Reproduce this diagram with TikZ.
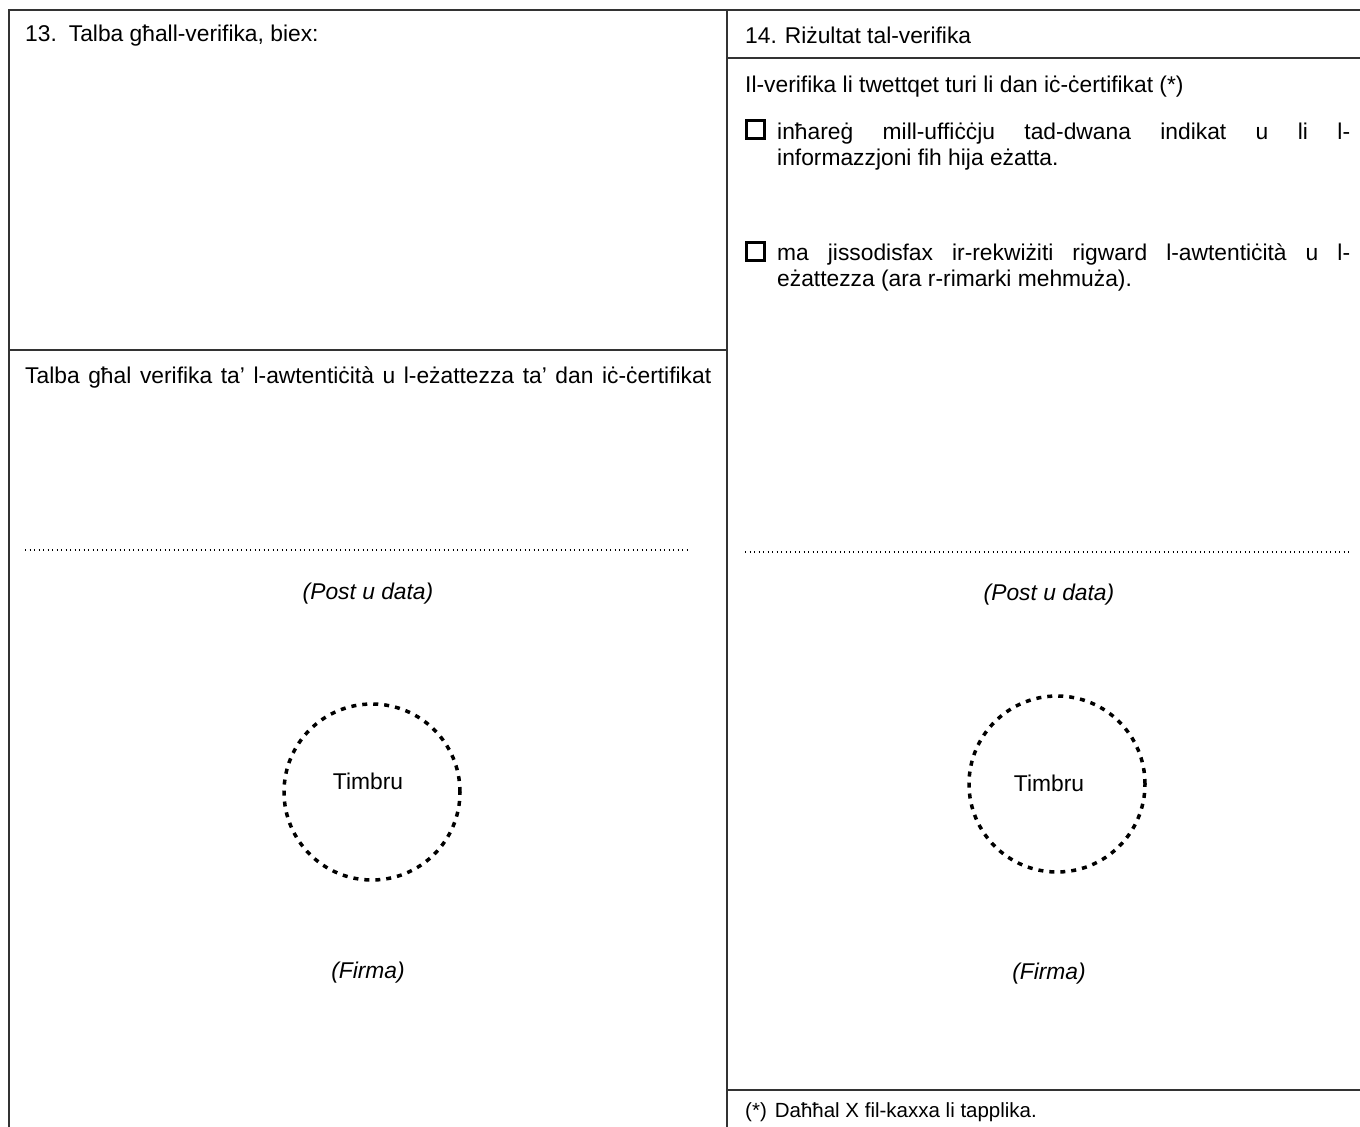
\documentclass[tikz,border=0pt]{standalone}
\usepackage{fontspec}
\setmainfont{Liberation Sans}
\begin{document}
\begin{tikzpicture}[x=1pt,y=-1pt,
  frame/.style={line width=1.3pt,black!80},
  txt/.style={inner sep=0pt,anchor=base west,font=\fontsize{22.8}{26.5}\selectfont},
  ctxt/.style={inner sep=0pt,anchor=base,font=\fontsize{22.8}{26.5}\selectfont},
  itxt/.style={inner sep=0pt,anchor=base,font=\fontsize{22.8}{26.5}\selectfont\itshape},
  para/.style={inner sep=0pt,anchor=base west,text width=573pt,align=justify,font=\fontsize{22.8}{26.5}\selectfont},
  chk/.style={draw,line width=3pt,minimum size=18pt,inner sep=0pt},
  dotline/.style={line width=1.1pt,dash pattern=on 1.1pt off 3.4pt},
  stamp/.style={circle,draw,line width=3.5pt,dash pattern=on 5pt off 6pt,minimum size=176pt,inner sep=0pt}
]
\useasboundingbox (0,0) rectangle (1360,1127);
% frame
\draw[frame] (9,1127) -- (9,10) -- (1360,10);
\draw[frame] (727,10) -- (727,1127);
\draw[frame] (9,350) -- (727,350);
\draw[frame] (727,58) -- (1360,58);
\draw[frame] (727,1090) -- (1360,1090);
% left column
\node[txt] (h13) at (25,41) {13.\hspace{12pt}Talba għall-verifika, biex:};
\node[txt] (req) at (25,383) {\makebox[686pt][s]{Talba għal verifika ta’ l-awtentiċità u l-eżattezza ta’ dan iċ-ċertifikat}};
\draw[dotline] (25,550) -- (687,550);
\node[itxt] (pdL) at (368,599) {(Post u data)};
\node[stamp] (stL) at (372,792) {};
\node[ctxt] (tL) at (368,789) {Timbru};
\node[itxt] (fL) at (368,978) {(Firma)};
% right column
\node[txt] (h14) at (745,43) {14.\hspace{8pt}Riżultat tal-verifika};
\node[txt] (intro) at (745,92) {Il-verifika li twettqet turi li dan iċ-ċertifikat (*)};
\node[chk] (c1) at (755,129) {};
\node[para] (p1) at (777,139) {inħareġ mill-uffiċċju tad-dwana indikat u li l-\linebreak informazzjoni fih hija eżatta.};
\node[chk] (c2) at (755,251) {};
\node[para] (p2) at (777,260) {ma jissodisfax ir-rekwiżiti rigward l-awtentiċità u l-\linebreak eżattezza (ara r-rimarki mehmuża).};
\draw[dotline] (745,552) -- (1350,552);
\node[itxt] (pdR) at (1049,600) {(Post u data)};
\node[stamp] (stR) at (1057,784) {};
\node[ctxt] (tR) at (1049,791) {Timbru};
\node[itxt] (fR) at (1049,979) {(Firma)};
\node[txt,font=\fontsize{20.5}{24}\selectfont] (fn) at (745,1117) {(*)\hspace{8pt}Daħħal X fil-kaxxa li tapplika.};
\end{tikzpicture}
\end{document}
